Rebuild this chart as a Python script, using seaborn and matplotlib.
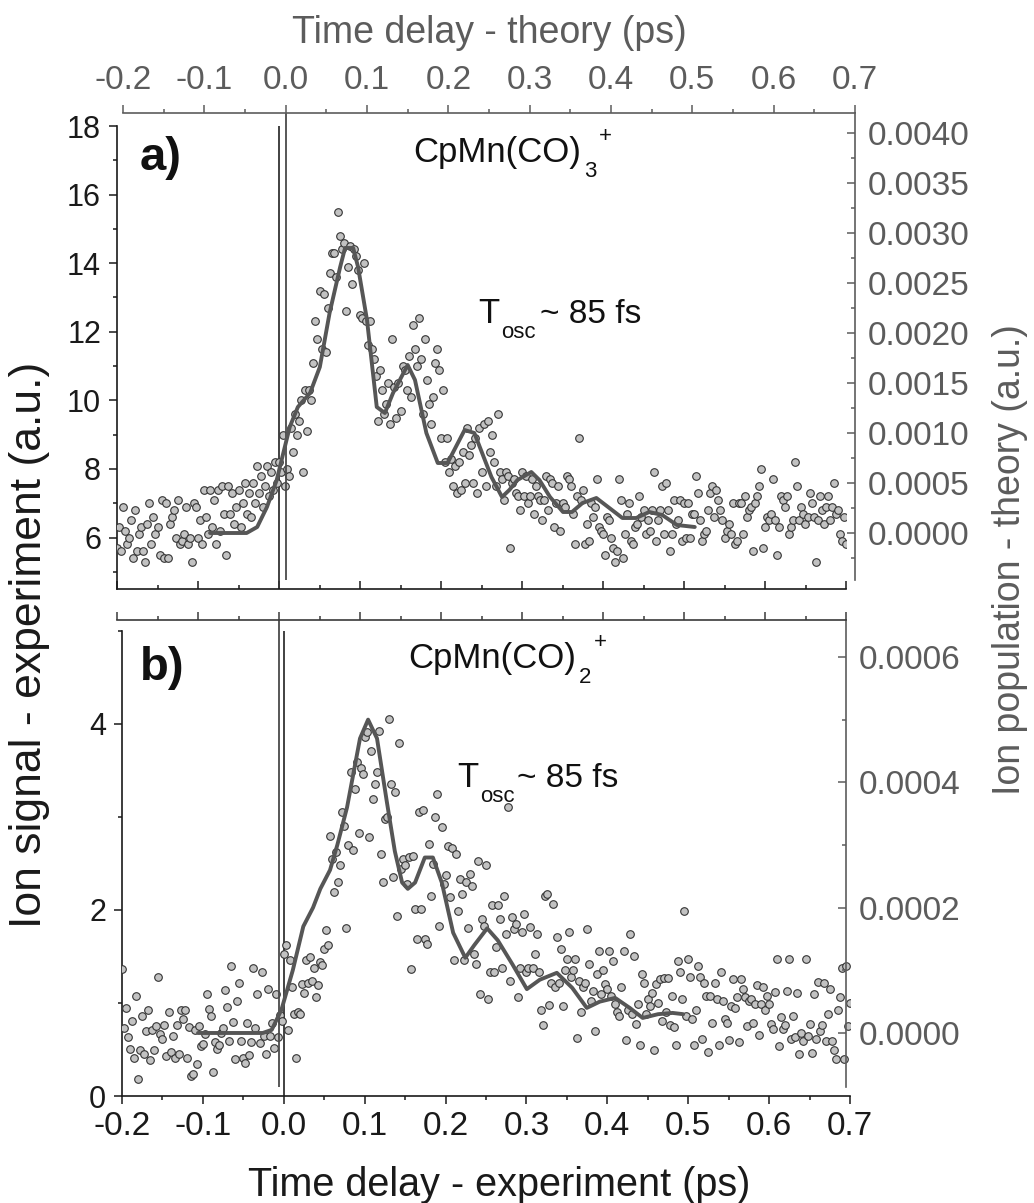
import numpy as np
import pandas as pd
import matplotlib
matplotlib.use("Agg")
import matplotlib.pyplot as plt
import seaborn as sns
from matplotlib.ticker import MultipleLocator, FormatStrFormatter

# ---------------- data ----------------
t_start = -0.2       # ps, first experimental delay
t_step = 0.0025      # ps, experimental delay step

# panel a: CpMn(CO)3+  ion signal (experiment, a.u.)
signal_a = [
    5.7, 6.3, 5.6, 6.9, 6.2, 5.8, 6.0, 6.5, 5.4, 6.8, 5.6, 6.1, 6.3, 5.6, 5.3, 6.4, 7.0, 5.8, 6.6, 6.1,
    6.3, 5.5, 7.1, 5.4, 7.0, 5.4, 6.4, 6.6, 6.8, 6.0, 7.1, 5.8, 5.9, 6.1, 6.9, 5.8, 6.0, 5.3, 7.0, 6.9,
    6.0, 6.5, 5.8, 7.4, 6.6, 6.1, 7.4, 6.3, 7.1, 5.8, 7.4, 6.2, 7.5, 6.7, 5.5, 7.5, 6.7, 7.3, 6.4, 6.9,
    7.4, 6.3, 7.0, 7.6, 6.7, 7.3, 6.6, 7.6, 7.0, 8.1, 7.3, 7.8, 6.9, 7.5, 8.1, 7.2, 7.9, 7.4, 8.2, 7.6,
    8.2, 7.9, 9.0, 7.5, 8.0, 7.8, 9.2, 8.5, 9.6, 9.0, 9.4, 10.0, 7.9, 10.3, 9.1, 10.3, 10.0, 11.1, 12.3, 11.8,
    13.2, 11.5, 13.1, 11.4, 12.7, 13.7, 14.3, 14.3, 13.6, 15.5, 14.8, 14.4, 14.6, 12.6, 13.9, 14.5, 13.4, 14.4, 14.2, 13.8,
    12.5, 12.4, 14.0, 12.3, 11.6, 12.3, 11.5, 11.2, 10.7, 9.4, 10.9, 10.3, 9.6, 9.9, 10.5, 9.3, 11.8, 10.4, 9.5, 10.5,
    9.7, 11.0, 10.9, 10.3, 11.3, 10.1, 12.2, 11.5, 11.0, 12.4, 11.2, 9.6, 11.8, 10.6, 9.9, 9.3, 10.1, 11.1, 11.5, 10.9,
    8.9, 10.3, 8.2, 8.9, 7.9, 8.3, 7.5, 8.1, 7.3, 8.2, 7.4, 8.5, 7.6, 9.2, 8.4, 8.7, 7.6, 8.9, 7.3, 9.2,
    7.9, 9.3, 7.5, 9.4, 8.5, 9.0, 8.2, 7.5, 9.6, 7.9, 7.7, 7.1, 7.9, 7.8, 5.7, 7.6, 7.7, 7.3, 7.2, 6.8,
    7.9, 7.2, 7.8, 7.0, 7.2, 7.7, 6.7, 7.5, 7.2, 7.1, 6.5, 7.1, 7.8, 6.8, 7.7, 7.6, 6.3, 7.0, 7.5, 6.2,
    7.0, 6.9, 7.8, 7.7, 7.5, 6.7, 5.8, 7.2, 8.9, 7.1, 7.4, 5.8, 6.4, 5.9, 7.0, 6.6, 6.9, 7.7, 6.3, 6.2,
    6.1, 5.5, 6.6, 6.5, 6.0, 5.7, 5.3, 5.6, 7.7, 7.1, 5.4, 6.1, 6.7, 7.0, 5.9, 5.8, 6.3, 6.4, 7.2, 6.6,
    6.8, 6.1, 6.5, 6.2, 6.8, 7.9, 5.9, 6.5, 6.8, 7.5, 6.1, 7.6, 6.8, 5.6, 6.1, 7.1, 6.4, 6.5, 7.1, 5.9,
    7.0, 6.0, 7.0, 6.0, 6.7, 6.7, 7.8, 7.3, 6.5, 5.9, 6.1, 6.2, 6.8, 7.3, 7.5, 6.6, 7.4, 7.1, 6.8, 6.5,
    6.0, 6.2, 6.4, 6.1, 7.0, 5.8, 5.9, 7.0, 7.0, 6.1, 7.2, 6.6, 6.8, 6.9, 5.6, 7.0, 7.2, 7.5, 8.0, 5.7,
    6.3, 6.6, 6.5, 6.7, 7.7, 6.5, 5.5, 6.3, 7.2, 7.1, 6.9, 7.2, 6.1, 6.3, 6.5, 8.2, 7.5, 6.5, 6.9, 6.7,
    6.4, 6.6, 7.3, 7.0, 6.6, 5.3, 6.5, 7.2, 6.8, 6.4, 6.9, 7.2, 6.5, 6.9, 7.6, 6.7, 6.8, 6.1, 5.9, 6.6,
    5.8,
]

# panel b: CpMn(CO)2+  ion signal (experiment, a.u.)
signal_b = [
    1.37, 0.73, 0.95, 0.63, 0.51, 0.81, 0.41, 1.08, 0.18, 0.50, 0.86, 0.45, 0.70, 0.92, 0.39, 0.71, 0.49, 0.75, 1.28, 0.67,
    0.61, 0.76, 0.43, 0.90, 0.47, 0.65, 0.41, 0.76, 0.45, 0.92, 0.83, 0.93, 0.41, 0.74, 0.22, 0.24, 0.71, 0.34, 0.75, 0.54,
    0.56, 0.67, 1.10, 0.94, 0.86, 0.26, 0.58, 0.51, 0.55, 0.68, 0.73, 1.14, 0.96, 0.59, 1.40, 0.80, 0.40, 1.02, 1.22, 0.59,
    0.41, 0.36, 0.78, 0.44, 0.58, 1.38, 0.73, 1.10, 0.57, 1.33, 0.65, 0.45, 1.15, 0.64, 0.78, 0.52, 1.10, 0.63, 0.87, 0.81,
    1.53, 1.62, 0.71, 1.46, 1.17, 0.88, 0.41, 0.90, 0.88, 1.20, 1.11, 1.46, 1.22, 1.50, 1.24, 1.38, 1.06, 1.19, 1.44, 1.41,
    1.58, 1.78, 1.62, 2.80, 2.55, 2.19, 2.62, 2.30, 2.48, 3.05, 2.90, 1.81, 2.70, 3.48, 2.64, 3.30, 3.59, 2.83, 3.53, 3.46,
    3.86, 3.91, 2.78, 3.71, 3.19, 3.35, 3.48, 3.93, 2.60, 2.30, 2.98, 3.00, 4.05, 3.35, 2.35, 3.27, 1.94, 3.80, 2.44, 2.55,
    2.48, 2.28, 2.57, 1.37, 2.58, 2.01, 1.69, 3.05, 2.01, 3.07, 1.69, 1.63, 2.71, 2.15, 2.49, 3.00, 3.25, 1.83, 2.89, 2.28,
    2.38, 2.69, 2.14, 2.67, 1.46, 2.60, 1.99, 2.33, 2.17, 1.46, 2.30, 1.81, 2.39, 2.26, 1.53, 1.42, 2.53, 1.10, 1.90, 1.83,
    2.48, 1.04, 1.33, 2.05, 1.33, 1.60, 2.05, 1.90, 1.38, 2.15, 1.74, 3.11, 1.24, 1.92, 1.80, 1.85, 1.06, 1.38, 1.76, 1.96,
    1.33, 1.38, 1.82, 1.38, 1.53, 1.74, 1.33, 0.92, 0.76, 2.15, 2.17, 0.98, 1.22, 2.06, 1.17, 1.71, 1.22, 1.58, 0.97, 1.35,
    1.47, 1.76, 1.28, 1.35, 1.47, 0.62, 1.24, 0.90, 1.17, 1.22, 1.80, 1.42, 1.02, 1.13, 0.70, 1.31, 1.56, 1.10, 1.35, 1.20,
    1.15, 1.56, 1.08, 1.45, 0.99, 0.90, 0.86, 1.17, 1.56, 0.60, 0.93, 1.74, 0.88, 1.51, 0.77, 0.99, 0.55, 1.31, 1.22, 0.88,
    1.04, 0.97, 1.11, 0.50, 1.20, 1.00, 1.26, 0.81, 1.27, 0.90, 1.27, 0.76, 1.08, 0.74, 0.55, 1.45, 1.33, 1.04, 1.99, 0.86,
    1.47, 1.28, 0.83, 0.55, 0.92, 1.40, 1.28, 0.61, 1.22, 1.08, 0.47, 1.08, 0.79, 1.22, 1.04, 0.55, 1.33, 1.02, 0.83, 0.79,
    0.60, 0.97, 1.26, 0.95, 1.06, 0.58, 1.26, 1.15, 1.06, 0.75, 1.02, 1.04, 0.79, 0.99, 1.19, 0.66, 0.99, 1.17, 0.92, 1.08,
    0.99, 0.77, 0.72, 1.12, 1.47, 0.54, 0.85, 0.72, 0.76, 1.13, 1.47, 0.61, 0.86, 0.63, 1.11, 0.45, 0.68, 0.59, 1.47, 0.65,
    0.77, 0.46, 1.10, 0.61, 1.23, 0.70, 0.76, 1.22, 0.59, 0.88, 1.15, 0.59, 0.49, 0.40, 0.92, 1.06, 1.38, 0.40, 1.40, 0.75,
    1.00,
]

# theory curves (theory time axis, ion population)
theory_time_a = [-0.093, -0.048, -0.035, -0.023, -0.011, -0.005, 0.005, 0.015, 0.030, 0.042, 0.054, 0.067,
                 0.073, 0.083, 0.089, 0.100, 0.112, 0.122, 0.132, 0.150, 0.159, 0.173, 0.187, 0.199, 0.220,
                 0.232, 0.253, 0.266, 0.275, 0.285, 0.302, 0.312, 0.325, 0.341, 0.352, 0.365, 0.382, 0.398,
                 0.414, 0.431, 0.447, 0.463, 0.481, 0.503]
theory_pop_a = [0.0, 0.0, 0.00006, 0.00026, 0.00053, 0.00073, 0.00106, 0.00126, 0.00140, 0.00166, 0.00220,
                0.00266, 0.00285, 0.00285, 0.00266, 0.00213, 0.00126, 0.00120, 0.00140, 0.00168, 0.00153,
                0.00100, 0.00070, 0.00070, 0.00103, 0.00100, 0.00056, 0.00036, 0.00043, 0.00053, 0.00061,
                0.00053, 0.00036, 0.00021, 0.00021, 0.00030, 0.00035, 0.00025, 0.00015, 0.00015, 0.00021,
                0.00018, 0.00008, 0.00006]
theory_time_b = [-0.100, -0.020, -0.009, 0.003, 0.017, 0.030, 0.042, 0.051, 0.063, 0.072, 0.084, 0.100,
                 0.110, 0.121, 0.133, 0.143, 0.152, 0.159, 0.168, 0.180, 0.190, 0.201, 0.215, 0.230, 0.241,
                 0.257, 0.270, 0.288, 0.306, 0.322, 0.343, 0.362, 0.380, 0.396, 0.415, 0.433, 0.449, 0.468,
                 0.486, 0.499]
theory_pop_b = [0.0, 0.0, 0.000005, 0.000037, 0.00010, 0.00017, 0.00020, 0.00023, 0.00026, 0.00030, 0.00036,
                0.00047, 0.00050, 0.00047, 0.00037, 0.00029, 0.00024, 0.00023, 0.00024, 0.00028, 0.00028,
                0.00024, 0.00016, 0.00012, 0.00014, 0.000167, 0.000148, 0.00011, 0.00007, 0.000085,
                0.000096, 0.000072, 0.00004, 0.00005, 0.000056, 0.00004, 0.000024, 0.00003, 0.000032, 0.00003]

x_ticklabels = ["-0.2", "-0.1", "0.0", "0.1", "0.2", "0.3", "0.4", "0.5", "0.6", "0.7"]

# ---------------- tables ----------------
df_a = pd.DataFrame({"t": t_start + t_step * np.arange(len(signal_a)), "signal": signal_a})
df_b = pd.DataFrame({"t": t_start + t_step * np.arange(len(signal_b)), "signal": signal_b})
th_a = pd.DataFrame({"t": theory_time_a, "pop": theory_pop_a})
th_b = pd.DataFrame({"t": theory_time_b, "pop": theory_pop_b})

# ---------------- style ----------------
sns.set_theme(style="white")
plt.rcParams["font.family"] = ["Liberation Sans", "DejaVu Sans"]
plt.rcParams["axes.unicode_minus"] = False

BLK = "#1a1a1a"
GRY = "#5c5c5c"
W, H = 1034, 1203
fig = plt.figure(figsize=(W / 100, H / 100), dpi=100)
fig.patch.set_facecolor("white")


def rect(l, t, r, b):
    return [l / W, 1 - b / H, (r - l) / W, (b - t) / H]


def ftext(x, y, s, **kw):
    return fig.text(x / W, 1 - y / H, s, **kw)


ax_a = fig.add_axes(rect(117, 126, 846, 589))
ax_at = fig.add_axes(rect(123, 113, 855, 580))
ax_b = fig.add_axes(rect(122, 631, 850, 1096))
ax_bt = fig.add_axes(rect(117, 620, 846, 1087))

for ax in (ax_a, ax_at, ax_b, ax_bt):
    ax.set_facecolor("none")
    ax.grid(False)
    ax.set_xlim(-0.2, 0.7)

mk = dict(s=30, color="#c2c2c2", edgecolor="#333333", linewidth=0.8, zorder=3, legend=False)
sns.scatterplot(data=df_a, x="t", y="signal", ax=ax_a, **mk)
sns.scatterplot(data=df_b, x="t", y="signal", ax=ax_b, **mk)
sns.lineplot(data=th_a, x="t", y="pop", ax=ax_at, color="#565656", linewidth=2.8, zorder=4)
sns.lineplot(data=th_b, x="t", y="pop", ax=ax_bt, color="#565656", linewidth=2.8, zorder=4)

ax_a.set_ylim(4.5, 18)
ax_at.set_ylim(-0.00047, 0.0042)
ax_b.set_ylim(0, 5.0)
ax_bt.set_ylim(-0.0000862, 0.000659)

ax_a.axvline(0, color="#333333", lw=1.3, zorder=2)
ax_at.axvline(0, color="#4a4a4a", lw=1.3, zorder=2)
ax_b.axvline(0, color="#333333", lw=1.3, zorder=2)
ax_bt.axvline(0, color="#4a4a4a", lw=1.3, zorder=2)

for ax in (ax_a, ax_at, ax_b, ax_bt):
    ax.set_xlabel("")
    ax.set_ylabel("")
    ax.xaxis.set_major_locator(MultipleLocator(0.1))
    ax.xaxis.set_minor_locator(MultipleLocator(0.05))

# experiment axes
for ax in (ax_a, ax_b):
    for s in ("top", "right"):
        ax.spines[s].set_visible(False)
    for s in ("left", "bottom"):
        ax.spines[s].set_color(BLK)
        ax.spines[s].set_linewidth(1.2)
    ax.yaxis.set_major_locator(MultipleLocator(2))
    ax.yaxis.set_minor_locator(MultipleLocator(1))
    ax.yaxis.set_major_formatter(FormatStrFormatter("%d"))
    ax.tick_params(axis="y", which="both", direction="out", left=True, right=False,
                   labelleft=True, labelright=False, color=BLK, width=1.1,
                   labelsize=22, labelcolor=BLK, pad=6)
    ax.tick_params(axis="y", which="major", length=5.5)
    ax.tick_params(axis="y", which="minor", length=3.2)
    ax.tick_params(axis="x", which="major", length=5.5)
    ax.tick_params(axis="x", which="minor", length=3.2)

ax_a.tick_params(axis="x", which="both", direction="in", bottom=True, top=False,
                 labelbottom=False, color=BLK, width=1.1)
ax_b.tick_params(axis="x", which="both", direction="out", bottom=True, top=False,
                 labelbottom=True, color=BLK, width=1.1, labelsize=24, labelcolor=BLK, pad=5)
ax_b.set_xticks(np.arange(len(x_ticklabels)) * 0.1 - 0.2)
ax_b.set_xticklabels(x_ticklabels)

# theory axes
for ax in (ax_at, ax_bt):
    for s in ("left", "bottom"):
        ax.spines[s].set_visible(False)
    ax.spines["right"].set_color(GRY)
    ax.spines["right"].set_linewidth(1.2)
    ax.spines["top"].set_linewidth(1.2)
    ax.xaxis.tick_top()
    ax.yaxis.tick_right()
    ax.yaxis.set_major_formatter(FormatStrFormatter("%.4f"))
    ax.tick_params(axis="y", which="both", direction="in", right=True, left=False,
                   labelright=True, labelleft=False, color=GRY, width=1.1,
                   labelsize=24, labelcolor=GRY, pad=9)
    ax.tick_params(axis="y", which="major", length=6)
    ax.tick_params(axis="y", which="minor", length=3.2)
    ax.tick_params(axis="x", which="major", length=5.5)
    ax.tick_params(axis="x", which="minor", length=3.2)

ax_at.spines["top"].set_color(GRY)
ax_at.tick_params(axis="x", which="both", direction="out", top=True, bottom=False,
                  labeltop=True, labelbottom=False, color=GRY, width=1.1,
                  labelsize=24, labelcolor=GRY, pad=7)
ax_at.set_xticks(np.arange(len(x_ticklabels)) * 0.1 - 0.2)
ax_at.set_xticklabels(x_ticklabels)
ax_at.yaxis.set_major_locator(MultipleLocator(0.0005))
ax_at.yaxis.set_minor_locator(MultipleLocator(0.00025))

ax_bt.spines["top"].set_color("#3a3a3a")
ax_bt.tick_params(axis="x", which="both", direction="out", top=True, bottom=False,
                  labeltop=False, labelbottom=False, color="#3a3a3a", width=1.1)
ax_bt.yaxis.set_major_locator(MultipleLocator(0.0002))
ax_bt.yaxis.set_minor_locator(MultipleLocator(0.0001))

# ---------------- texts ----------------
ftext(489, 43, "Time delay - theory (ps)", ha="center", va="baseline", fontsize=27, color=GRY)
ftext(499, 1196, "Time delay - experiment (ps)", ha="center", va="baseline", fontsize=28.5, color=BLK)
ftext(30, 645, "Ion signal - experiment (a.u.)", rotation=90, ha="center", va="center",
      fontsize=32, color=BLK)
ftext(1010, 560, "Ion population - theory (a.u.)", rotation=90, ha="center", va="center",
      fontsize=27, color=GRY)

ftext(140, 170, "a)", fontsize=34, fontweight="bold", va="baseline", color="#111111")
ftext(140, 680, "b)", fontsize=34, fontweight="bold", va="baseline", color="#111111")

renderer = fig.canvas.get_renderer()


def formula(x, y, sub, sup):
    t = ftext(x, y, "CpMn(CO)", fontsize=25, va="baseline", color="#111111")
    x1 = t.get_window_extent(renderer=renderer).x1
    ftext(x1 + 3, y + 15, sub, fontsize=16, va="baseline", color="#111111")
    ftext(x1 + 18, y - 20, sup, fontsize=16, va="baseline", color="#111111")


def tosc(x, y, x2):
    t = ftext(x, y, "T", fontsize=25, va="baseline", color="#111111")
    x1 = t.get_window_extent(renderer=renderer).x1
    ftext(x1 + 2, y + 15, "osc", fontsize=16, va="baseline", color="#111111")
    ftext(x2, y, "~ 85 fs", fontsize=24, va="baseline", color="#111111")


formula(413, 162, "3", "+")
formula(408, 668, "2", "+")
tosc(478, 323, 540)
tosc(457, 787, 517)

fig.savefig("out.png", dpi=100, facecolor="white")
